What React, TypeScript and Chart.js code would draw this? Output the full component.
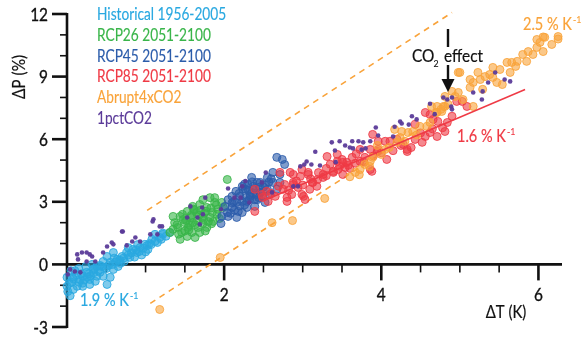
import React, { useEffect, useRef } from "react";
import { Chart, registerables } from "chart.js";

Chart.register(...registerables);

// ---------- axes ----------
const X_MIN = 0;
const X_MAX = 6.3;
const Y_MIN = -3;
const Y_MAX = 12;
const xTickLabels = [2, 4, 6];
const xMinorStep = 0.5;
const yTickLabels = [-3, 0, 3, 6, 9, 12];
const yMinorStep = 1;

// ---------- legend ----------
const legendLabels = [
  "Historical 1956-2005",
  "RCP26 2051-2100",
  "RCP45 2051-2100",
  "RCP85 2051-2100",
  "Abrupt4xCO2",
  "1pctCO2",
];

// ---------- data: [ΔT (K), ΔP (%)] ----------
const historical: [number, number][] = [
  [0, -1.05], [0.01, -1.3], [0.0, -0.62], [0.06, -0.86], [0.07, -0.62], [0.13, -1.05], [0.17, -0.72],
  [0.2, -0.57], [0.25, -0.38], [0.29, -0.72], [0.33, -0.24], [0.38, -0.57], [0.42, -0.38], [0.51, -0.96],
  [0.44, -0.1], [0.46, 0.14], [0.55, 0.1], [0.59, -0.24], [0.64, 0.24], [0.65, -0.1], [0.7, 0.38],
  [0.76, 0.57], [0.8, 0.34], [0.84, 0.72], [0.89, 0.57], [0.93, 0.81], [0.99, 0.96], [1.03, 0.72],
  [1.08, 1.2], [1.15, 1.05], [1.18, 1.29], [1.22, 1.44], [1.31, 1.53], [1.22, 1.5], [1.12, 1.44],
  [0.32, 0], [0.38, -0.1], [0.51, 0.38], [0.59, 0.57], [0.04, -1.5], [0.2, -1.05], [0.29, -0.96],
  [0.36, -0.81], [0.46, -0.57], [0.55, -0.62], [0.1, -0.3], [0.15, -0.2], [0.24, -0.1], [0.28, -0.45],
  [0.5, -0.2], [0.68, 0.05], [0.73, 0.15], [0.86, 0.35], [0.95, 0.45], [1.0, 0.6], [0.6, 0.3],
  [0.78, 0.8], [0.9, 0.95], [1.05, 1.0], [0.12, -0.5], [0.2, -0.9], [0.05, -0.3],
  [0.03, -0.9], [0.08, -1.2], [0.15, -0.85], [0.22, -0.75], [0.3, -0.55], [0.34, -0.4], [0.4, -0.3],
  [0.48, -0.15], [0.53, -0.05], [0.58, 0.0], [0.62, 0.12], [0.67, 0.2], [0.72, 0.3], [0.78, 0.45],
  [0.82, 0.55], [0.88, 0.7], [0.92, 0.62], [0.97, 0.78], [1.02, 0.9], [1.07, 0.95], [1.12, 1.1],
  [1.2, 1.2], [1.26, 1.35], [0.35, -0.2], [0.42, -0.05], [0.26, -0.6], [0.18, -0.45], [0.08, -0.7],
];

const rcp26: [number, number][] = [
  [2.04, 4.07], [1.73, 3.1], [1.82, 3.2], [1.88, 2.97], [1.69, 2.87], [1.6, 2.78], [1.78, 2.73],
  [1.92, 2.64], [1.53, 2.54], [1.65, 2.49], [1.85, 2.49], [1.35, 2.3], [1.44, 2.3], [1.57, 2.25],
  [1.72, 2.25], [1.82, 2.25], [1.91, 2.4], [1.37, 2.0], [1.5, 2.0], [1.6, 2.0], [1.73, 1.96],
  [1.86, 2.06], [1.41, 1.77], [1.54, 1.77], [1.67, 1.77], [1.78, 1.77], [1.46, 1.53], [1.59, 1.53],
  [1.69, 1.53], [1.53, 1.34], [1.63, 1.29], [1.44, 1.2], [1.35, 1.68], [1.31, 1.53], [1.99, 2.73],
  [1.97, 2.97], [1.88, 3.2], [1.62, 2.6], [1.75, 2.45], [1.48, 2.15], [1.66, 2.1], [1.8, 2.05],
  [1.56, 1.9], [1.7, 2.6], [1.94, 2.2], [1.5, 1.6],
  [1.4, 1.9], [1.47, 2.4], [1.52, 2.1], [1.58, 2.35], [1.63, 1.9], [1.68, 2.35], [1.74, 2.15],
  [1.77, 2.55], [1.83, 2.7], [1.9, 2.85], [1.55, 1.65], [1.61, 2.65], [1.42, 1.45], [1.84, 1.95],
  [1.76, 1.6],
];

const rcp45: [number, number][] = [
  [2.23, 3.74], [2.3, 3.83], [2.42, 3.93], [2.46, 3.45], [2.33, 3.35], [2.2, 3.26], [2.1, 3.26],
  [2.05, 3.1], [2.16, 2.97], [2.29, 3.02], [2.39, 3.1], [2.49, 3.26], [2.01, 2.78], [2.1, 2.73],
  [2.18, 2.54], [2.04, 2.49], [1.97, 2.3], [2.05, 2.3], [2.16, 2.25], [1.96, 1.96], [2.12, 3.0],
  [2.24, 3.6], [2.39, 3.6], [2.35, 4.17], [2.67, 5.13], [2.74, 5.03], [2.77, 4.79], [2.62, 4.41],
  [2.71, 4.31], [2.55, 4.17], [2.46, 3.93], [2.62, 3.93], [2.37, 3.74], [2.55, 3.6], [2.67, 3.6],
  [2.27, 3.6], [2.46, 3.45], [2.58, 3.35], [2.33, 3.26], [2.42, 3.1], [2.23, 3.02], [2.52, 2.97],
  [2.29, 2.73], [2.39, 2.78], [2.23, 2.49], [2.71, 3.93], [2.5, 3.7], [2.35, 3.45], [2.28, 3.2],
  [2.15, 3.5],
  [2.1, 2.95], [2.19, 3.4], [2.26, 3.85], [2.31, 3.55], [2.36, 3.95], [2.41, 3.35], [2.45, 3.7],
  [2.52, 3.8], [2.57, 3.95], [2.6, 4.1], [2.44, 3.2], [2.32, 3.1], [2.26, 2.85], [2.13, 2.6],
  [2.08, 2.45], [2.2, 2.8],
];

const rcp85: [number, number][] = [
  [2.39, 2.54], [2.71, 4.41], [2.84, 4.41], [2.88, 3.93], [2.75, 3.6], [2.65, 3.26], [2.56, 3.02],
  [2.8, 3.21], [2.94, 3.69], [2.99, 4.55], [3.07, 4.41], [3.12, 3.93], [3.18, 3.74], [3.26, 4.17],
  [3.31, 5.17], [3.44, 5.27], [3.39, 4.46], [3.47, 4.7], [3.51, 4.89], [3.03, 3.11], [2.49, 3.21],
  [2.39, 3.6], [2.48, 3.35], [2.54, 3.5], [2.77, 3.83], [2.8, 3.02], [2.86, 3.35], [2.99, 3.35],
  [3.01, 3.26], [3.09, 3.6], [3.13, 3.93], [3.19, 4.07], [2.88, 3.83], [2.97, 4.22], [3.07, 4.31],
  [3.26, 4.31], [3.39, 4.41], [3.51, 4.31], [3.88, 4.46], [2.88, 4.31], [3.89, 6.23], [3.96, 5.9],
  [4.05, 5.9], [4.11, 5.9], [4.33, 5.51], [4.52, 5.85], [4.56, 6.13], [4.43, 5.99], [4.71, 6.13],
  [4.62, 6.32], [4.43, 6.71], [4.56, 7.28], [4.62, 7.18], [4.72, 6.85], [4.84, 6.8], [4.81, 6.37],
  [4.33, 5.41], [3.79, 5.13], [3.95, 5.41], [4.07, 5.03], [3.86, 4.55], [3.73, 4.94], [3.44, 4.94],
  [3.5, 5.03], [3.56, 4.89], [3.54, 4.65], [3.63, 5.13], [3.86, 5.51], [3.96, 5.51], [3.73, 5.51],
  [5.09, 7.57], [5.03, 7.81], [4.96, 7.81], [4.66, 6.95], [4.2, 6.0], [4.25, 5.7], [3.6, 4.6],
  [3.3, 4.6], [3.68, 5.3],
  [2.6, 3.4], [2.69, 3.75], [2.82, 3.55], [2.92, 4.0], [3.0, 3.8], [3.1, 4.1], [3.2, 4.4],
  [3.3, 4.25], [3.35, 4.8], [3.45, 4.55], [3.58, 4.75], [3.67, 4.85], [3.78, 4.9], [3.9, 5.2],
  [4.0, 5.35], [4.15, 5.45], [4.28, 5.75], [4.38, 5.6], [4.5, 6.3], [4.65, 6.5], [4.78, 6.55],
  [4.9, 7.1],
];

const abrupt4xCO2: [number, number][] = [
  [1.18, -2.16], [1.95, 0.33], [2.61, 2.0], [2.87, 2.1], [3.28, 3.16], [3.72, 4.3], [3.67, 4.41],
  [3.73, 4.55], [3.79, 4.79], [3.86, 4.94], [3.89, 5.13], [4.0, 5.27], [4.05, 5.51], [4.2, 5.85],
  [4.24, 6.08], [4.26, 6.37], [4.17, 6.47], [4.34, 6.32], [4.4, 6.37], [4.49, 6.61], [4.58, 6.61],
  [4.62, 6.8], [4.71, 7.28], [4.77, 7.33], [4.81, 7.57], [4.71, 7.57], [4.64, 7.57], [4.76, 7.43],
  [4.85, 7.67], [4.94, 8.05], [4.98, 8.24], [4.9, 8.29], [5.04, 7.9], [5.13, 8.48], [5.17, 8.72],
  [5.26, 8.86], [5.23, 9.2], [5.32, 9.0], [5.38, 9.1], [5.42, 9.44], [5.51, 9.34], [5.54, 8.62],
  [5.6, 9.68], [5.66, 9.68], [5.73, 9.73], [5.8, 10.06], [5.87, 10.2], [5.93, 10.06], [5.98, 10.4],
  [6.02, 10.64], [6.06, 10.2], [6.08, 10.88], [6.17, 10.54], [6.25, 10.92], [5.85, 9.73], [5.42, 8.96],
  [5.47, 8.72], [4.98, 9.2], [5.71, 9.49], [5.64, 9.2], [6.06, 10.9], [5.98, 10.78], [6.25, 10.8],
  [5.13, 8.86], [5.0, 9.2], [4.81, 8.05], [5.29, 8.39], [5.17, 7.57], [4.79, 7.57], [4.7, 7.28],
  [3.95, 5.7], [4.1, 5.6], [4.3, 5.9], [4.45, 6.2], [3.6, 4.2], [3.85, 4.7],
];

const pct1CO2: [number, number][] = [
  [0.7, 1.58], [0.59, 0.96], [0.51, 0.86], [0.83, 1.1], [0.87, 1.29], [1.09, 2.06], [1.18, 1.82],
  [1.06, 1.44], [1.15, 1.44], [0.93, 1.1], [0.76, 0.91], [0.13, 0.48], [0.19, 0.57], [0.25, 0.57],
  [0.29, 0.48], [0.32, 0.38], [0.14, 0.24], [0.04, -0.24], [0.1, -0.34], [0.17, -0.38], [0.25, 0.14],
  [0.36, 0.14], [0.01, -0.48], [0.46, 0.57], [1.1, 2.16], [0.71, 1.58], [0.57, 1.05],
  [2.27, 4.0], [2.05, 3.64], [2.13, 3.2], [2.21, 3.2], [1.76, 3.2], [1.57, 2.78], [1.72, 2.73],
  [1.53, 2.25], [1.66, 2.25], [1.73, 2.4], [1.69, 1.92], [1.96, 2.64], [1.21, 1.82], [2.32, 2.97],
  [3.37, 5.85], [3.16, 5.4], [3.05, 4.93], [3.02, 4.79], [3.11, 4.79], [3.22, 4.74], [2.97, 4.7],
  [2.53, 4.4], [2.48, 3.93], [2.23, 3.74], [2.61, 3.45], [2.88, 3.74], [2.94, 3.74], [3.47, 5.9],
  [4.62, 7.7], [4.39, 7.1], [4.45, 6.95], [4.24, 6.85], [4.26, 6.75], [4.17, 6.6], [4.35, 6.7],
  [3.93, 6.56], [3.96, 6.18], [3.86, 5.9], [3.71, 5.9], [3.77, 5.85], [3.63, 5.9], [3.54, 5.7],
  [3.6, 5.6], [3.64, 5.56], [3.41, 5.46], [3.75, 5.5], [3.8, 5.56], [4.15, 6.13], [4.68, 7.2],
  [3.42, 4.9], [5.45, 9.2], [5.36, 8.72], [5.57, 8.86], [5.64, 8.77], [5.17, 8.24], [5.29, 8.29],
  [5.28, 7.9], [4.9, 8.0], [4.84, 7.9], [4.89, 7.57], [4.9, 7.43], [4.79, 8.0],
];

// fitted / guide lines
const redFitLine: [number, number][] = [[2.5, 3.05], [5.83, 8.38]];
const upperDashLine: [number, number][] = [[1.02, 2.59], [4.9, 12.07]];
const lowerDashLine: [number, number][] = [[1.06, -1.87], [4.4, 6.3]];

// ---------- styles ----------
const COL_HIST = [41, 168, 224];
const COL_26 = [57, 181, 74];
const COL_45 = [43, 92, 170];
const COL_85 = [239, 58, 69];
const COL_ABR = [249, 163, 58];
const COL_PCT = [91, 59, 153];
const legendColors = [COL_HIST, COL_26, COL_45, COL_85, COL_ABR, COL_PCT];

const rgba = (c: number[], a: number) => `rgba(${c[0]},${c[1]},${c[2]},${a})`;
const FONT = "Lato, 'Open Sans', sans-serif";
const INK = "#111111";

const pts = (arr: [number, number][]) => arr.map(([x, y]) => ({ x, y }));

function drawText(
  ctx: CanvasRenderingContext2D,
  text: string,
  x: number,
  y: number,
  size: number,
  color: string,
  align: "left" | "center" | "right" = "left",
  baseline: CanvasTextBaseline = "alphabetic",
  sx = 0.88,
  stroke = 0.35
) {
  ctx.save();
  ctx.font = `${size}px ${FONT}`;
  ctx.fillStyle = color;
  ctx.strokeStyle = color;
  ctx.lineWidth = stroke;
  ctx.textBaseline = baseline;
  ctx.textAlign = "left";
  const w = ctx.measureText(text).width * sx;
  let left = x;
  if (align === "center") left = x - w / 2;
  else if (align === "right") left = x - w;
  ctx.translate(left, y);
  ctx.scale(sx, 1);
  ctx.fillText(text, 0, 0);
  if (stroke > 0) ctx.strokeText(text, 0, 0);
  ctx.restore();
  return left + w;
}

function drawRate(ctx: CanvasRenderingContext2D, base: string, x: number, y: number, color: string) {
  const end = drawText(ctx, base, x, y, 16.5, color, "left", "alphabetic", 0.88, 0.2);
  drawText(ctx, "-1", end + 1, y - 7, 10, color, "left", "alphabetic", 0.88, 0.1);
}

function seg(ctx: CanvasRenderingContext2D, x1: number, y1: number, x2: number, y2: number) {
  ctx.beginPath();
  ctx.moveTo(x1, y1);
  ctx.lineTo(x2, y2);
  ctx.stroke();
}

const axesPlugin = {
  id: "customAxes",
  beforeDatasetsDraw(chart: any) {
    const { ctx, scales } = chart;
    const xs = scales.x;
    const ys = scales.y;
    const x0 = xs.getPixelForValue(0);
    const y0 = ys.getPixelForValue(0);
    ctx.save();
    ctx.strokeStyle = INK;
    ctx.lineCap = "butt";
    ctx.lineWidth = 2.6;
    seg(ctx, x0, ys.getPixelForValue(Y_MIN) + 1, x0, ys.getPixelForValue(Y_MAX) - 1);
    seg(ctx, x0, y0, xs.getPixelForValue(X_MAX), y0);
    for (let v = Y_MIN; v <= Y_MAX; v += yMinorStep) {
      const major = yTickLabels.includes(v);
      const py = ys.getPixelForValue(v);
      ctx.lineWidth = major ? 2.6 : 1.6;
      seg(ctx, x0 - (major ? 15 : 7), py, x0, py);
    }
    for (let i = 1; i * xMinorStep <= X_MAX + 1e-6; i++) {
      const v = i * xMinorStep;
      const major = xTickLabels.includes(v);
      const px = xs.getPixelForValue(v);
      ctx.lineWidth = major ? 2.6 : 1.6;
      seg(ctx, px, y0, px, y0 + (major ? 16 : 8));
    }
    ctx.restore();
  },
  afterDatasetsDraw(chart: any) {
    const { ctx, scales } = chart;
    const xs = scales.x;
    const ys = scales.y;
    const x0 = xs.getPixelForValue(0);
    const y0 = ys.getPixelForValue(0);

    // tick labels
    yTickLabels.forEach((v) => {
      drawText(ctx, String(v), x0 - 19, ys.getPixelForValue(v) + 1, 17.5, INK, "right", "middle");
    });
    xTickLabels.forEach((v) => {
      drawText(ctx, String(v), xs.getPixelForValue(v), y0 + 31, 17.5, INK, "center", "middle");
    });

    // axis titles
    drawText(ctx, "ΔT (K)", 506, 313, 17, INK, "center", "middle", 0.88, 0.2);
    ctx.save();
    ctx.translate(19, 77);
    ctx.rotate(-Math.PI / 2);
    drawText(ctx, "ΔP (%)", 0, 0, 17.5, INK, "center", "middle", 0.88, 0.2);
    ctx.restore();

    // legend
    legendLabels.forEach((lab, i) => {
      drawText(ctx, lab, 97, 15 + i * 20.7, 16.5, rgba(legendColors[i], 1), "left", "middle", 0.83, 0.15);
    });

    // rate labels
    drawRate(ctx, "2.5 % K", 523, 30, rgba(COL_ABR, 1));
    drawRate(ctx, "1.6 % K", 457, 142, rgba(COL_85, 1));
    drawRate(ctx, "1.9 % K", 80, 306, rgba(COL_HIST, 1));

    // CO2 effect arrow
    const ax = 448;
    ctx.save();
    ctx.strokeStyle = INK;
    ctx.fillStyle = INK;
    ctx.lineWidth = 2.4;
    seg(ctx, ax, 29, ax, 47);
    seg(ctx, ax, 65, ax, 82);
    ctx.beginPath();
    ctx.moveTo(ax - 6.5, 79);
    ctx.lineTo(ax + 6.5, 79);
    ctx.lineTo(ax, 92);
    ctx.closePath();
    ctx.fill();
    ctx.restore();
    const e1 = drawText(ctx, "CO", 412, 62, 17.5, INK, "left", "alphabetic", 0.88, 0.2);
    drawText(ctx, "2", e1 - 1, 67, 10, INK, "left", "alphabetic", 0.88, 0.1);
    drawText(ctx, "effect", 444, 62, 17.5, INK, "left", "alphabetic", 0.88, 0.2);
  },
};

function circles(data: [number, number][], c: number[], order: number) {
  return {
    data: pts(data),
    pointRadius: 4,
    pointBackgroundColor: rgba(c, 0.6),
    pointBorderColor: rgba(c, 0.85),
    pointBorderWidth: 1,
    showLine: false,
    clip: false as any,
    order,
  };
}

function guide(data: [number, number][], color: string, dashed: boolean, order: number) {
  return {
    data: pts(data),
    showLine: true,
    pointRadius: 0,
    borderColor: color,
    borderWidth: dashed ? 1.6 : 1.5,
    borderDash: dashed ? [6, 5] : [],
    fill: false,
    clip: false as any,
    order,
  };
}

export default function App() {
  const ref = useRef<HTMLCanvasElement>(null);
  useEffect(() => {
    document.body.style.margin = "0";
    const chart = new Chart(ref.current as HTMLCanvasElement, {
      type: "scatter",
      data: {
        datasets: [
          {
            data: pts(pct1CO2),
            pointRadius: 2.3,
            pointBackgroundColor: rgba(COL_PCT, 0.95),
            pointBorderWidth: 0,
            showLine: false,
            clip: false as any,
            order: 0,
          } as any,
          guide(redFitLine, rgba(COL_85, 1), false, 1) as any,
          circles(abrupt4xCO2, COL_ABR, 2) as any,
          circles(rcp85, COL_85, 3) as any,
          circles(rcp45, COL_45, 4) as any,
          circles(rcp26, COL_26, 5) as any,
          circles(historical, COL_HIST, 6) as any,
          guide(upperDashLine, rgba(COL_ABR, 1), true, 7) as any,
          guide(lowerDashLine, rgba(COL_ABR, 1), true, 8) as any,
        ],
      },
      options: {
        responsive: false,
        animation: false,
        events: [],
        layout: { padding: { left: 67, right: 26, top: 14, bottom: 10 } },
        scales: {
          x: { type: "linear", min: X_MIN, max: X_MAX, display: false },
          y: { type: "linear", min: Y_MIN, max: Y_MAX, display: false },
        },
        plugins: { legend: { display: false }, tooltip: { enabled: false } },
      },
      plugins: [axesPlugin],
    });
    return () => chart.destroy();
  }, []);
  return (
    <div style={{ width: 588, height: 337 }}>
      <canvas ref={ref} width={588} height={337} style={{ display: "block", width: 588, height: 337 }} />
    </div>
  );
}
